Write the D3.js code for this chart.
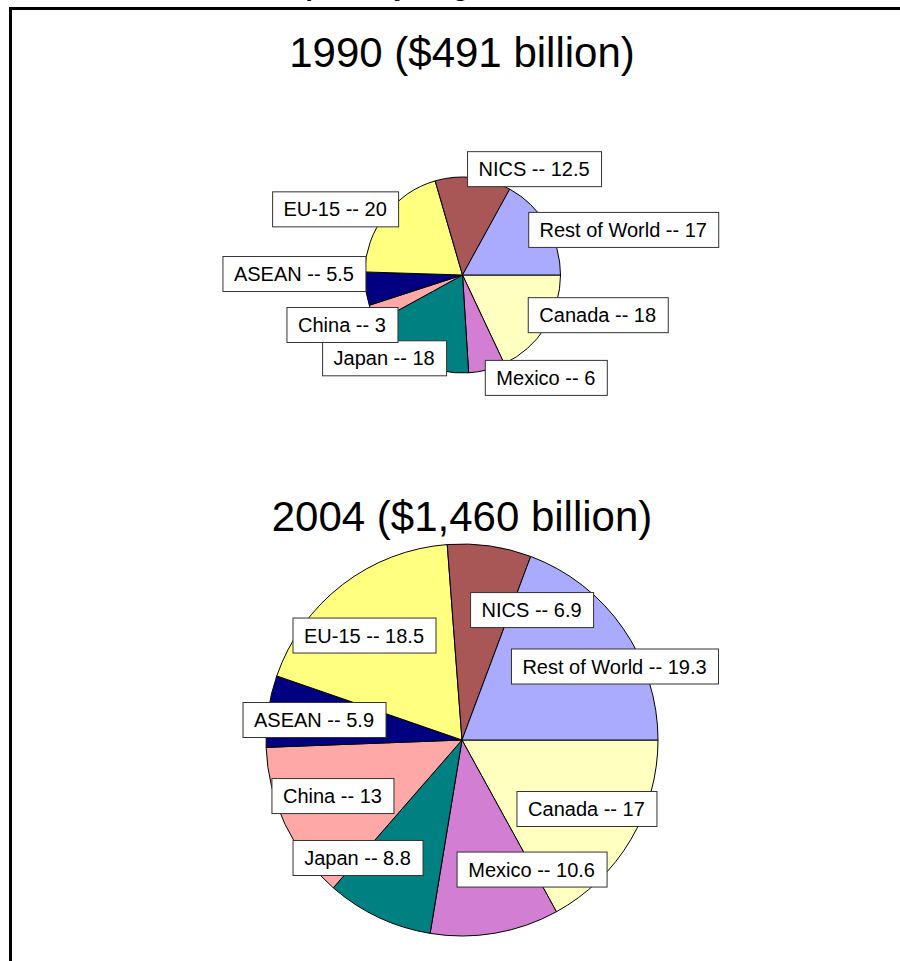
<!DOCTYPE html>
<html>
<head>
<meta charset="utf-8">
<script src="https://cdn.jsdelivr.net/npm/d3@7"></script>
<style>
  body { margin: 0; background: #fff; }
  svg { display: block; font-family: Arial, "Liberation Sans", sans-serif; }
</style>
</head>
<body>
<div id="chart"></div>
<script>
// Trade shares by partner group, two pies (1990 and 2004)

// Data
const groups = ["Canada", "Mexico", "Japan", "China", "ASEAN", "EU-15", "NICS", "Rest of World"];
const share1990 = [18, 6, 18, 3, 5.5, 20, 12.5, 17];
const share2004 = [17, 10.6, 8.8, 13, 5.9, 18.5, 6.9, 19.3];
const titles = ["1990 ($491 billion)", "2004 ($1,460 billion)"];

// Styles
const colors = ["#FFFFC0", "#D27ED2", "#008080", "#FFA8A8", "#000080", "#FFFF80", "#A85656", "#AAAAFF"];

// Label box centres, in pie-radius units relative to pie centre
const labelPos1990 = {
    "Canada": [1.38, 0.41], "Mexico": [0.85, 1.05], "Japan": [-0.80, 0.85], "China": [-1.23, 0.51],
    "ASEAN": [-1.72, -0.01], "EU-15": [-1.30, -0.67], "NICS": [0.73, -1.08], "Rest of World": [1.64, -0.46]
};
const labelPos2004 = {
    "Canada": [0.635, 0.352], "Mexico": [0.355, 0.661], "Japan": [-0.533, 0.602], "China": [-0.661, 0.286],
    "ASEAN": [-0.755, -0.102], "EU-15": [-0.50, -0.533], "NICS": [0.355, -0.663], "Rest of World": [0.778, -0.375]
};

function createVisualization() {
    const svgWidth = 900;
    const svgHeight = 961;

    const svg = d3.select("#chart")
        .append("svg")
        .attr("width", svgWidth)
        .attr("height", svgHeight);

    // Cut-off page heading above the frame (only descenders show)
    svg.append("text")
        .attr("x", 450)
        .attr("y", -4)
        .attr("text-anchor", "middle")
        .style("font-size", "26px")
        .style("font-weight", "bold")
        .text("U.S. Imports by Origin, 1990 and 2004");

    // Frame lines (top and left)
    svg.append("line")
        .attr("x1", 9).attr("x2", 900)
        .attr("y1", 8.5).attr("y2", 8.5)
        .attr("stroke", "#000").attr("stroke-width", 3);
    svg.append("line")
        .attr("x1", 10.5).attr("x2", 10.5)
        .attr("y1", 7).attr("y2", svgHeight)
        .attr("stroke", "#000").attr("stroke-width", 3);

    const color = d3.scaleOrdinal().domain(groups).range(colors);

    const pie = d3.pie()
        .sort(null)
        .value(d => d.value)
        .startAngle(Math.PI / 2)
        .endAngle(Math.PI / 2 + 2 * Math.PI);

    const charts = [
        { title: titles[0], values: share1990, cx: 462.5, cy: 275, r: 98, titleY: 67, labels: labelPos1990 },
        { title: titles[1], values: share2004, cx: 462, cy: 740, r: 196, titleY: 531, labels: labelPos2004 }
    ];

    charts.forEach(c => {
        const data = groups.map((g, i) => ({ group: g, value: c.values[i] }));

        svg.append("text")
            .attr("x", 462)
            .attr("y", c.titleY)
            .attr("text-anchor", "middle")
            .style("font-size", "42px")
            .text(c.title);

        const g = svg.append("g")
            .attr("transform", `translate(${c.cx},${c.cy})`);

        const arc = d3.arc().innerRadius(0).outerRadius(c.r);

        g.selectAll(".slice")
            .data(pie(data))
            .enter().append("path")
            .attr("class", "slice")
            .attr("d", arc)
            .attr("fill", d => color(d.data.group))
            .attr("stroke", "#000")
            .attr("stroke-width", 1)
            .attr("stroke-linejoin", "round");

        // Data labels in white boxes
        const lab = g.selectAll(".lab")
            .data(data)
            .enter().append("g")
            .attr("class", "lab")
            .attr("transform", d => {
                const p = c.labels[d.group];
                return `translate(${p[0] * c.r},${p[1] * c.r})`;
            });

        lab.append("rect")
            .attr("fill", "#fff")
            .attr("stroke", "#333")
            .attr("stroke-width", 1);

        lab.append("text")
            .attr("text-anchor", "middle")
            .attr("y", 7)
            .style("font-size", "20px")
            .text(d => `${d.group} -- ${d.value}`);

        lab.each(function() {
            const t = d3.select(this).select("text").node().getComputedTextLength();
            const w = Math.round(t + 23);
            d3.select(this).select("rect")
                .attr("x", -w / 2 + 0.5)
                .attr("y", -17.5)
                .attr("width", w)
                .attr("height", 35);
        });
    });
}

createVisualization();
</script>
</body>
</html>
